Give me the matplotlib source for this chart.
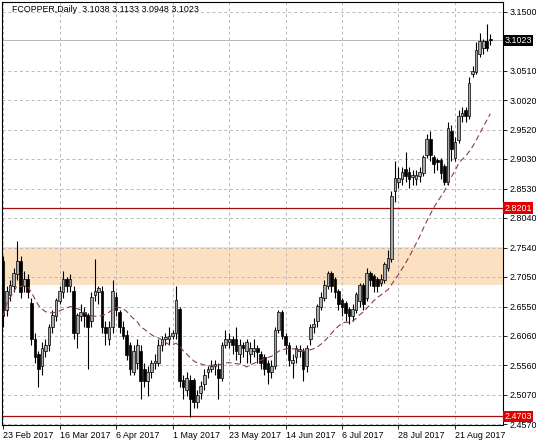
import numpy as np
import pandas as pd
import matplotlib
matplotlib.use("Agg")
import matplotlib.pyplot as plt

plt.rcParams['font.family'] = ['Liberation Sans', 'DejaVu Sans']

# daily OHLC (one row per bar)
opens = [2.73, 2.65, 2.675, 2.69, 2.71, 2.73, 2.69, 2.70, 2.66, 2.60,
         2.575, 2.555, 2.58, 2.59, 2.62, 2.64, 2.665, 2.68, 2.70, 2.69,
         2.68, 2.61, 2.64, 2.645, 2.64, 2.63, 2.675, 2.68, 2.68, 2.62,
         2.60, 2.62, 2.67, 2.645, 2.62, 2.607, 2.59, 2.545, 2.56, 2.58,
         2.55, 2.53, 2.545, 2.56, 2.56, 2.59, 2.60, 2.60, 2.605, 2.61,
         2.65, 2.53, 2.515, 2.53, 2.53, 2.495, 2.51, 2.525, 2.545, 2.55,
         2.555, 2.55, 2.535, 2.59, 2.595, 2.60, 2.60, 2.575, 2.59, 2.58,
         2.575, 2.58, 2.585, 2.575, 2.57, 2.56, 2.545, 2.555, 2.615, 2.645,
         2.605, 2.59, 2.56, 2.57, 2.58, 2.58, 2.555, 2.60, 2.62, 2.63,
         2.655, 2.67, 2.69, 2.71, 2.70, 2.68, 2.665, 2.66, 2.65, 2.64,
         2.65, 2.665, 2.69, 2.67, 2.71, 2.705, 2.70, 2.695, 2.70, 2.72,
         2.735, 2.85, 2.865, 2.87, 2.885, 2.88, 2.872, 2.87, 2.875, 2.88,
         2.91, 2.935, 2.905, 2.90, 2.90, 2.89, 2.865, 2.95, 2.905, 2.935,
         2.975, 2.985, 2.975, 3.045, 3.05, 3.08, 3.09, 3.10, 3.1038]
highs = [2.74, 2.69, 2.70, 2.72, 2.765, 2.74, 2.715, 2.71, 2.67, 2.61,
         2.58, 2.595, 2.60, 2.625, 2.65, 2.67, 2.69, 2.715, 2.705, 2.71,
         2.69, 2.645, 2.66, 2.655, 2.645, 2.68, 2.735, 2.69, 2.69, 2.63,
         2.63, 2.70, 2.68, 2.65, 2.63, 2.615, 2.595, 2.59, 2.60, 2.59,
         2.56, 2.555, 2.565, 2.575, 2.60, 2.605, 2.61, 2.62, 2.615, 2.69,
         2.655, 2.54, 2.545, 2.54, 2.535, 2.515, 2.53, 2.55, 2.555, 2.565,
         2.565, 2.56, 2.595, 2.615, 2.61, 2.605, 2.62, 2.60, 2.595, 2.60,
         2.595, 2.60, 2.59, 2.58, 2.575, 2.565, 2.565, 2.62, 2.65, 2.65,
         2.61, 2.595, 2.575, 2.59, 2.59, 2.585, 2.59, 2.625, 2.635, 2.66,
         2.68, 2.70, 2.715, 2.715, 2.705, 2.685, 2.67, 2.665, 2.655, 2.66,
         2.68, 2.695, 2.695, 2.72, 2.715, 2.71, 2.705, 2.71, 2.73, 2.75,
         2.85, 2.90, 2.89, 2.89, 2.915, 2.89, 2.885, 2.885, 2.89, 2.91,
         2.945, 2.95, 2.91, 2.905, 2.905, 2.895, 2.965, 2.96, 2.94, 2.985,
         2.99, 2.99, 3.04, 3.06, 3.10, 3.115, 3.105, 3.13, 3.1133]
lows = [2.62, 2.64, 2.665, 2.68, 2.70, 2.67, 2.68, 2.67, 2.59, 2.56,
        2.52, 2.54, 2.57, 2.58, 2.61, 2.63, 2.66, 2.67, 2.68, 2.68,
        2.60, 2.585, 2.63, 2.62, 2.55, 2.62, 2.665, 2.66, 2.61, 2.59,
        2.59, 2.61, 2.64, 2.61, 2.60, 2.565, 2.54, 2.54, 2.55, 2.50,
        2.52, 2.505, 2.535, 2.55, 2.555, 2.58, 2.59, 2.59, 2.60, 2.60,
        2.52, 2.50, 2.505, 2.47, 2.485, 2.485, 2.50, 2.515, 2.535, 2.545,
        2.54, 2.50, 2.53, 2.585, 2.585, 2.575, 2.565, 2.56, 2.57, 2.56,
        2.56, 2.57, 2.56, 2.55, 2.54, 2.525, 2.535, 2.55, 2.61, 2.60,
        2.575, 2.555, 2.535, 2.56, 2.57, 2.53, 2.545, 2.59, 2.61, 2.62,
        2.65, 2.665, 2.685, 2.68, 2.67, 2.65, 2.64, 2.63, 2.625, 2.63,
        2.645, 2.655, 2.65, 2.665, 2.69, 2.68, 2.68, 2.69, 2.695, 2.715,
        2.73, 2.83, 2.855, 2.86, 2.865, 2.855, 2.86, 2.86, 2.865, 2.875,
        2.905, 2.90, 2.88, 2.885, 2.87, 2.86, 2.86, 2.90, 2.90, 2.93,
        2.965, 2.965, 2.97, 3.04, 3.045, 3.075, 3.08, 3.085, 3.0948]
closes = [2.64, 2.68, 2.69, 2.71, 2.73, 2.68, 2.70, 2.68, 2.60, 2.57,
          2.55, 2.585, 2.59, 2.62, 2.64, 2.665, 2.68, 2.70, 2.69, 2.70,
          2.61, 2.64, 2.645, 2.64, 2.62, 2.67, 2.68, 2.685, 2.62, 2.61,
          2.62, 2.68, 2.65, 2.62, 2.605, 2.573, 2.55, 2.58, 2.59, 2.53,
          2.53, 2.545, 2.56, 2.562, 2.59, 2.60, 2.603, 2.605, 2.61, 2.665,
          2.53, 2.52, 2.535, 2.50, 2.495, 2.505, 2.52, 2.54, 2.55, 2.555,
          2.557, 2.535, 2.59, 2.60, 2.60, 2.59, 2.58, 2.59, 2.585, 2.595,
          2.585, 2.585, 2.578, 2.56, 2.55, 2.545, 2.555, 2.615, 2.645, 2.605,
          2.59, 2.565, 2.565, 2.585, 2.583, 2.55, 2.585, 2.62, 2.625, 2.655,
          2.67, 2.69, 2.71, 2.69, 2.68, 2.66, 2.655, 2.645, 2.64, 2.65,
          2.675, 2.69, 2.66, 2.71, 2.70, 2.69, 2.69, 2.70, 2.725, 2.735,
          2.84, 2.87, 2.87, 2.88, 2.875, 2.87, 2.876, 2.875, 2.88, 2.905,
          2.935, 2.91, 2.895, 2.898, 2.88, 2.865, 2.955, 2.92, 2.93, 2.975,
          2.98, 2.975, 3.03, 3.05, 3.085, 3.10, 3.10, 3.09, 3.1023]

tick_every = 16
date_labels = ["23 Feb 2017", "16 Mar 2017", "6 Apr 2017", "1 May 2017", "23 May 2017",
               "14 Jun 2017", "6 Jul 2017", "28 Jul 2017", "21 Aug 2017"]
price_ticks = [3.1500, 3.0510, 3.0020, 2.9520, 2.9030, 2.8530, 2.8040,
               2.7540, 2.7050, 2.6550, 2.6060, 2.5560, 2.5070, 2.4570]
level_hi = 2.8201
level_lo = 2.4703
zone = (2.691, 2.755)
ma_period = 20

o = np.array(opens); h = np.array(highs); l = np.array(lows); c = np.array(closes)
x = np.arange(len(c))
ma = pd.Series(c).rolling(ma_period, min_periods=1).mean()

fig = plt.figure(figsize=(5.36, 4.46), dpi=100)
ax = fig.add_axes([2 / 536, 1 - 425 / 446, 501 / 536, 423 / 446])

ax.axhspan(zone[0], zone[1], color="#fbe0c2", zorder=0, lw=0)
for p in price_ticks:
    ax.axhline(p, color="#b8b8b8", ls=(0, (3, 3)), lw=0.7, zorder=1)
for i in range(0, len(c) + tick_every, tick_every):
    ax.axvline(i, color="#b8b8b8", ls=(0, (3, 3)), lw=0.7, zorder=1)
ax.axhline(3.1023, color="#b8b8b8", lw=0.7, zorder=1)
ax.axhline(level_hi, color="#a01010", lw=0.9, zorder=2)
ax.axhline(level_lo, color="#a01010", lw=0.9, zorder=2)

up = c >= o
ax.vlines(x, l, h, color="black", lw=0.8, zorder=3)
ax.bar(x, np.abs(c - o) + 0.0008, bottom=np.minimum(o, c), width=0.75,
       color=np.where(up, "#a8a8a8", "black"), edgecolor="black", lw=0.5, zorder=4)
ax.plot(x, ma, color="#8a4040", ls=(0, (5, 3)), lw=0.8, zorder=5)

ax.set_xlim(-0.3, 141.6)
ax.set_ylim(2.456, 3.1668)
ax.set_xticks(np.arange(len(date_labels)) * tick_every)
ax.set_xticklabels(date_labels, ha="left", fontsize=6.4)
ax.yaxis.tick_right()
ax.set_yticks(price_ticks)
ax.set_yticklabels([f"{p:.4f}" for p in price_ticks], fontsize=6.4)
ax.tick_params(length=3, width=0.6, pad=1.5)
for s in ax.spines.values():
    s.set_linewidth(0.8)

for val, bg in [(3.1023, "black"), (level_hi, "#e00000"), (level_lo, "#e00000")]:
    ax.text(1.003, val, f"{val:.4f}", transform=ax.get_yaxis_transform(),
            fontsize=6.4, color="white", va="center", ha="left",
            bbox=dict(boxstyle="square,pad=0.15", fc=bg, ec="none"), zorder=10)

ax.text(0.02, 0.992, "FCOPPER,Daily  3.1038 3.1133 3.0948 3.1023", transform=ax.transAxes,
        fontsize=6.4, va="top", ha="left")

fig.savefig("out.png", dpi=100)
